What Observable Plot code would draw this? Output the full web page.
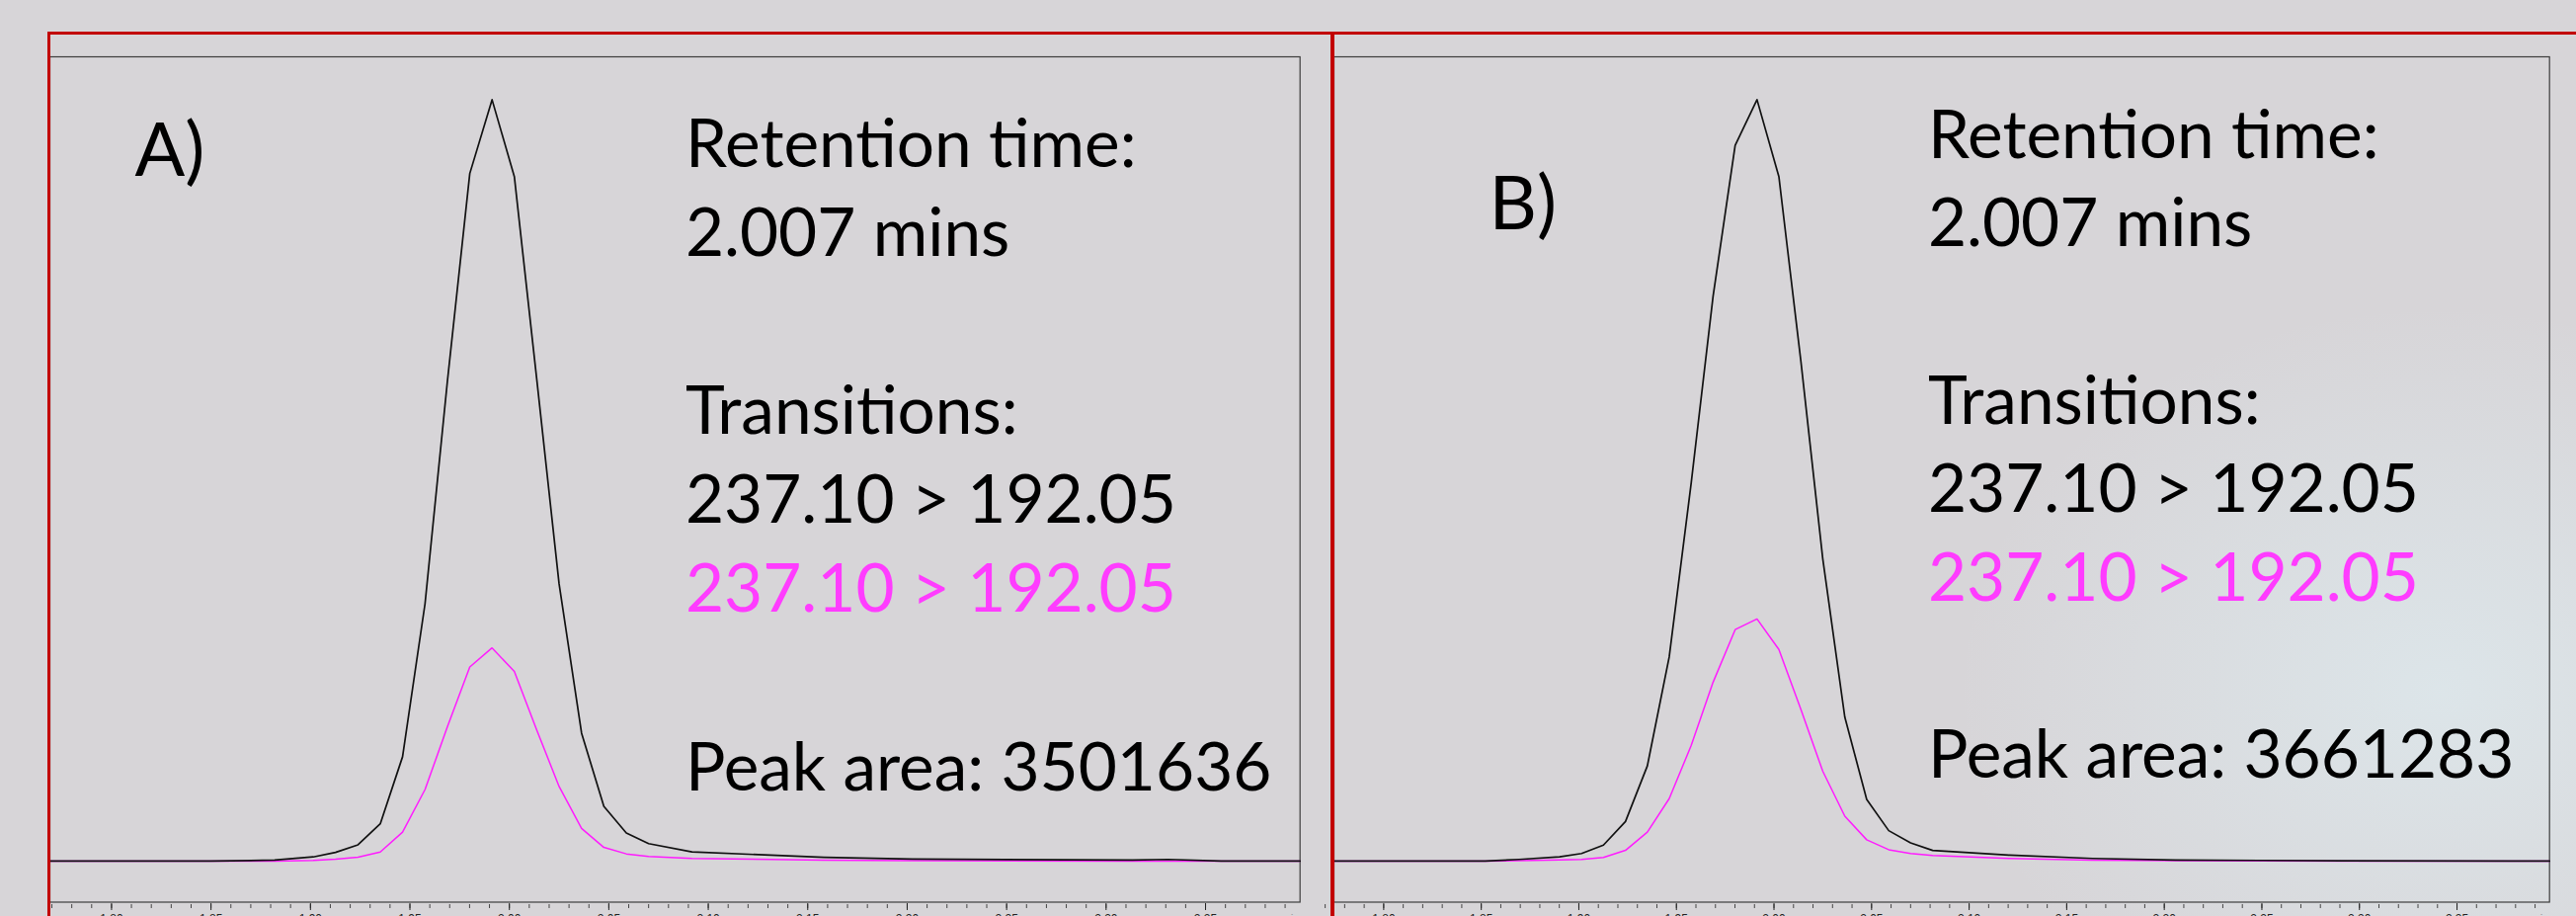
<!DOCTYPE html>
<html><head><meta charset="utf-8">
<script src="https://cdn.jsdelivr.net/npm/d3@7"></script>
<script src="https://cdn.jsdelivr.net/npm/@observablehq/plot@0.6"></script>
<style>
html,body{margin:0;padding:0;background:#d7d5d8;}
#stage{position:relative;width:2608px;height:927px;overflow:hidden;
  background:radial-gradient(ellipse 650px 520px at 2470px 700px, rgba(221,231,235,0.9), rgba(215,213,216,0) 75%), #d7d5d8;}
.red{position:absolute;background:#c20000;}
</style></head><body>
<div id="stage"></div>
<script>
// ---- data (retention time in min, relative intensity) ----
const timeA  = [1.769, 1.850, 1.882, 1.9014, 1.9126, 1.9239, 1.9351, 1.9463, 1.9576, 1.9688, 1.9801, 1.9913, 2.0025, 2.0138, 2.0250, 2.0363, 2.0475, 2.0588, 2.0700, 2.0918, 2.1583, 2.2025, 2.3132, 2.3311, 2.3579, 2.3975];
const blackA = [0, 0, 0.13, 0.55, 1.15, 2.14, 4.9, 13.7, 33.8, 62.9, 90.3, 100, 89.9, 63.2, 36.4, 16.8, 7.2, 3.7, 2.3, 1.2, 0.5, 0.26, 0.13, 0.22, 0.02, 0];
const pinkA  = [0, 0, 0, 0.1, 0.25, 0.5, 1.2, 3.8, 9.4, 17.6, 25.5, 28.0, 24.9, 17.2, 9.8, 4.3, 1.8, 0.95, 0.6, 0.35, 0.13, 0.05, 0, 0, 0, 0];

const timeB  = [1.7745, 1.852, 1.8694, 1.8901, 1.9014, 1.9126, 1.9239, 1.9351, 1.9463, 1.9576, 1.9688, 1.9801, 1.9913, 2.0025, 2.0138, 2.0250, 2.0363, 2.0475, 2.0588, 2.0700, 2.0813, 2.1207, 2.1632, 2.2057, 2.2908, 2.3974];
const blackB = [0, 0, 0.22, 0.56, 1.0, 2.1, 5.2, 12.5, 26.8, 49.7, 74.2, 94.0, 100, 89.9, 65.6, 39.7, 18.9, 8.1, 4.0, 2.4, 1.4, 0.78, 0.35, 0.13, 0.05, 0];
const pinkB  = [0, 0, 0.05, 0.16, 0.22, 0.49, 1.41, 3.8, 8.2, 15.2, 23.5, 30.4, 31.8, 27.8, 19.9, 11.8, 5.9, 2.8, 1.5, 1.0, 0.75, 0.35, 0.13, 0.05, 0, 0];

const majorTicks = [1.80, 1.85, 1.90, 1.95, 2.00, 2.05, 2.10, 2.15, 2.20, 2.25, 2.30, 2.35];
const minorTicks = d3.range(177, 240).map(d => d / 100);

const panelLabels = ["A)", "B)"];
const textLinesA = ["Retention time:", "2.007 mins", "Transitions:", "237.10 > 192.05", "237.10 > 192.05", "Peak area: 3501636"];
const textLinesB = ["Retention time:", "2.007 mins", "Transitions:", "237.10 > 192.05", "237.10 > 192.05", "Peak area: 3661283"];
const lineSlots = [0, 1, 3, 4, 5, 7];
const lineColors = ["#000000", "#000000", "#000000", "#000000", "#ff3cff", "#000000"];
const unitX = "min";

// ---- layout ----
const yDomain = [-5.39, 105.63];
const frameTop = 57, frameBottom = 912.5;
const panels = [
  {time: timeA, black: blackA, pink: pinkA, lines: textLinesA, label: panelLabels[0],
   frameLeft: 50, frameRight: 1315.7, xDomain: [1.769, 2.3975],
   textT: 2.0885, textV: 91.2, step: 11.7, labelT: 1.8117, labelV: 90.0},
  {time: timeB, black: blackB, pink: pinkB, lines: textLinesB, label: panelLabels[1],
   frameLeft: 1350, frameRight: 2580.7, xDomain: [1.7745, 2.3974],
   textT: 2.0789, textV: 92.35, step: 11.63, labelT: 1.854, labelV: 83.0}
];

const stage = document.getElementById("stage");
const mL = 10, mR = 10, mT = 10, mB = 40;

for (const cfg of panels) {
  const rows = cfg.time.map((t, i) => ({t, black: cfg.black[i], pink: cfg.pink[i]}));
  const annot = cfg.lines.map((text, i) => ({text, slot: lineSlots[i], color: lineColors[i]}));
  const innerW = cfg.frameRight - cfg.frameLeft, innerH = frameBottom - frameTop;
  const svg = Plot.plot({
    width: innerW + mL + mR, height: innerH + mT + mB,
    marginLeft: mL, marginRight: mR, marginTop: mT, marginBottom: mB,
    x: {domain: cfg.xDomain, axis: null, label: null},
    y: {domain: yDomain, axis: null, label: null},
    color: {type: "identity"},
    style: {background: "transparent", overflow: "visible"},
    marks: [
      Plot.frame({stroke: "#3c3c3c", strokeWidth: 1.2}),
      Plot.axisX(minorTicks, {tickSize: 4, dy: 2.5, tickFormat: () => "", stroke: "#444", label: null}),
      Plot.axisX(majorTicks, {tickSize: 7, dy: 1.5, tickPadding: 4, tickFormat: d3.format(".2f"),
        fontSize: 12, fontFamily: "Liberation Sans, Arial, sans-serif", fill: "#222", stroke: "#222", label: null}),
      Plot.text([unitX], {text: d => d, frameAnchor: "bottom-right", textAnchor: "end", lineAnchor: "top",
        dy: 12.5, fill: "#9a9a9a", fontSize: 12, fontFamily: "Liberation Sans, Arial, sans-serif"}),
      Plot.line(rows, {x: "t", y: "pink", stroke: "#ff1cff", strokeWidth: 1.5}),
      Plot.line(rows, {x: "t", y: "black", stroke: "#111111", strokeWidth: 1.7}),
      Plot.text(annot, {x: () => cfg.textT, y: d => cfg.textV - d.slot * cfg.step, text: "text",
        fill: "color", fontSize: 67.5, fontFamily: "Lato", textAnchor: "start", lineAnchor: "bottom"}),
      Plot.text([cfg.label], {x: () => cfg.labelT, y: () => cfg.labelV, text: d => d,
        fill: "#000", fontSize: 75, fontFamily: "Lato", textAnchor: "start", lineAnchor: "bottom"})
    ]
  });
  svg.style.position = "absolute";
  svg.style.left = (cfg.frameLeft - mL) + "px";
  svg.style.top = (frameTop - mT) + "px";
  stage.appendChild(svg);
}

// red slide frame lines
function red(l, t, w, h) {
  const d = document.createElement("div");
  d.className = "red";
  Object.assign(d.style, {left: l + "px", top: t + "px", width: w + "px", height: h + "px"});
  stage.appendChild(d);
}
red(48, 32, 2560, 3);
red(48, 32, 3, 895);
red(1347, 32, 4, 895);
</script>
</body></html>
